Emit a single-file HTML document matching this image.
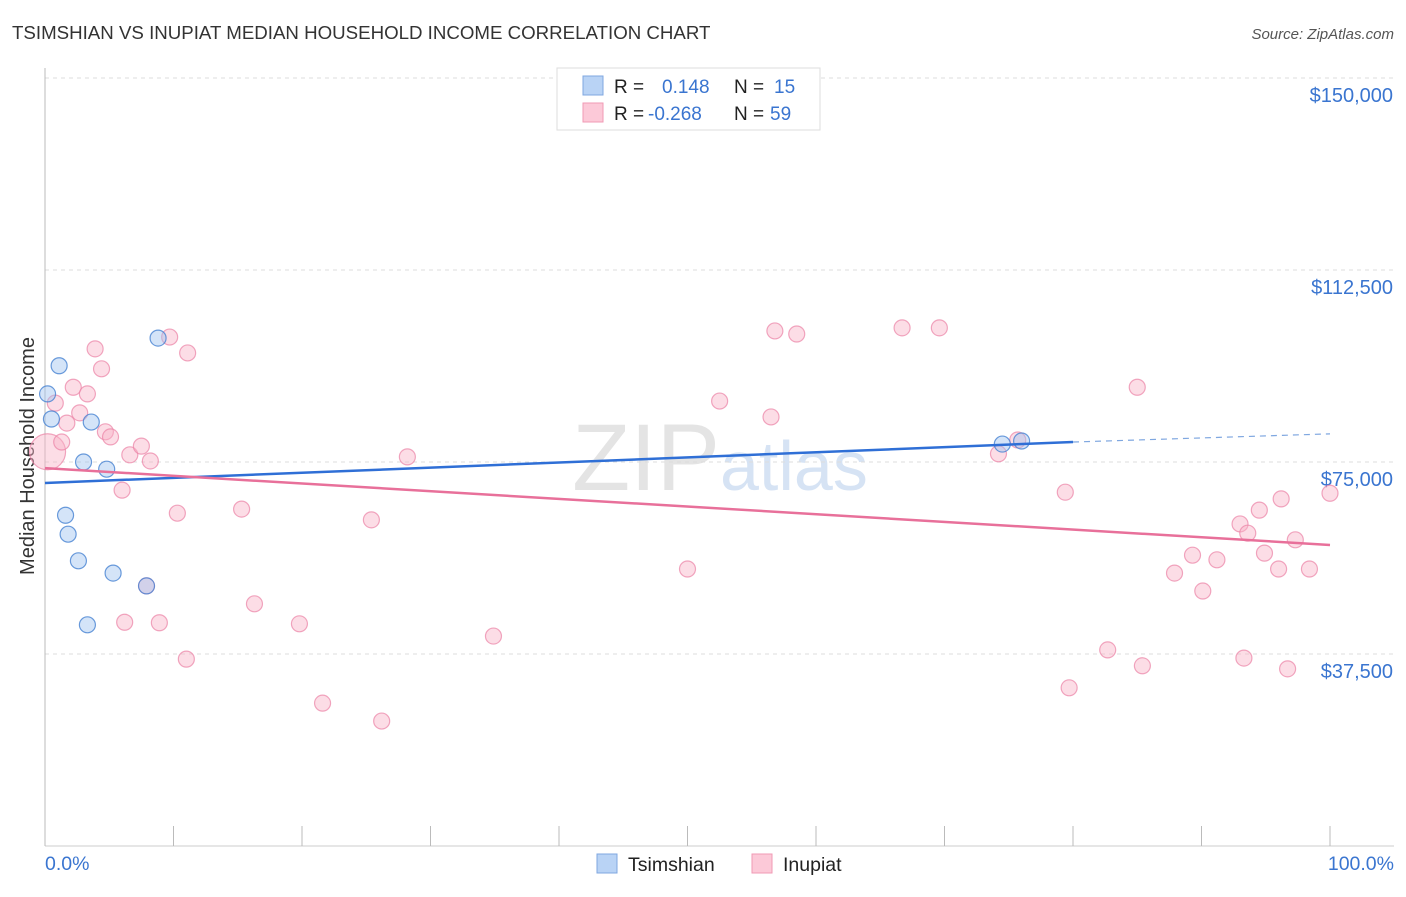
<!DOCTYPE html>
<html><head><meta charset="utf-8"><style>
body{margin:0;background:#fff;font-family:"Liberation Sans",sans-serif}
svg text{font-family:"Liberation Sans",sans-serif}
</style></head><body>
<svg id="c" width="1406" height="892">
<text x="12" y="39" font-size="18.7" fill="#333">TSIMSHIAN VS INUPIAT MEDIAN HOUSEHOLD INCOME CORRELATION CHART</text>
<text x="1394" y="39" font-size="15" fill="#555" text-anchor="end" font-style="italic">Source: ZipAtlas.com</text>
<text x="0" y="0" transform="translate(34,456) rotate(-90)" font-size="20" fill="#333" text-anchor="middle">Median Household Income</text>
<text x="720" y="490" font-size="95" fill="#e4e4e4" text-anchor="middle" font-family="Liberation Serif">ZIP<tspan fill="#d6e3f4" font-family="Liberation Sans" font-size="70">atlas</tspan></text>
<g id="grid"></g><g id="pts"></g><g id="lines"></g>
<g>
<rect x="557" y="68" width="263" height="62" fill="#fff" stroke="#ddd"/>
<rect x="583" y="76" width="20" height="19" fill="#b9d3f5" stroke="#7fa7e0"/>
<rect x="583" y="103" width="20" height="19" fill="#fcc9d8" stroke="#f09ab4"/>
<text x="614" y="93" font-size="19" fill="#222">R = <tspan x="662" fill="#3a75d0">0.148</tspan><tspan x="734" fill="#222">N = </tspan><tspan x="774" fill="#3a75d0">15</tspan></text>
<text x="614" y="120" font-size="19" fill="#222">R = <tspan x="648" fill="#3a75d0">-0.268</tspan><tspan x="734" fill="#222">N = </tspan><tspan x="770" fill="#3a75d0">59</tspan></text>
</g>
<g>
<rect x="597" y="854" width="20" height="19" fill="#b9d3f5" stroke="#7fa7e0"/>
<text x="628" y="871" font-size="19.5" fill="#222">Tsimshian</text>
<rect x="752" y="854" width="20" height="19" fill="#fcc9d8" stroke="#f09ab4"/>
<text x="783" y="871" font-size="19.5" fill="#222">Inupiat</text>
</g>
<text x="45" y="870" font-size="19.5" fill="#3a75d0">0.0%</text>
<text x="1394" y="870" font-size="19.5" fill="#3a75d0" text-anchor="end">100.0%</text>
</svg>
<script>
const yTicks=[150000,112500,75000,37500];
const yTickLabels=["$150,000","$112,500","$75,000","$37,500"];
const blueX=[0.2,1.1,0.5,3.6,3.0,4.8,1.6,1.8,2.6,5.3,7.9,3.3,8.8,74.5,76.0];
const blueY=[88.3,93.8,83.4,82.8,75.0,73.6,64.6,60.9,55.7,53.3,50.8,43.2,99.2,78.5,79.1];
const pinkX=[0.2,0.8,1.3,1.7,2.2,2.7,3.3,3.9,4.4,4.7,5.1,6.0,6.6,7.5,8.2,9.7,11.1,10.3,6.2,8.9,11.0,15.3,16.3,19.8,21.6,25.4,26.2,28.2,34.9,50.0,52.5,56.5,56.8,58.5,66.7,69.6,74.2,75.7,79.4,79.7,82.7,85.0,85.4,87.9,89.3,90.1,91.2,93.0,93.3,93.6,94.5,94.9,96.2,96.0,96.7,97.3,98.4,100,7.9];
const pinkY=[77.0,86.5,78.9,82.6,89.6,84.6,88.3,97.1,93.2,80.9,79.9,69.5,76.4,78.1,75.2,99.4,96.3,65.0,43.7,43.6,36.5,65.8,47.3,43.4,27.9,63.7,24.4,76.0,41.0,54.1,86.9,83.8,100.6,100.0,101.2,101.2,76.6,79.3,69.1,30.9,38.3,89.6,35.2,53.3,56.8,49.8,55.9,62.9,36.7,61.1,65.6,57.2,67.8,54.1,34.6,59.8,54.1,68.9,50.8];
const blueTrend=[70.9,78.9,80.5];
const pinkTrend=[73.8,58.8];
const NS="http://www.w3.org/2000/svg";
const X=v=>45+v*12.85, Y=k=>846-k*1000*192/37500;
function mk(t,a,p){const e=document.createElementNS(NS,t);for(const k in a)e.setAttribute(k,a[k]);p.appendChild(e);return e;}
const grid=document.getElementById('grid');
yTicks.forEach((v,i)=>{
 const l=mk('line',{x1:45,x2:1394,y1:Y(v/1000),y2:Y(v/1000),stroke:'#ddd','stroke-dasharray':'4,4'},grid);
 
 
 const t=mk('text',{x:1393,y:Y(v/1000)+24,'font-size':20,fill:'#3a75d0','text-anchor':'end'},grid);
 t.textContent=yTickLabels[i];
 
 
});
const ax=mk('line',{x1:45,x2:45,y1:68,y2:846,stroke:'#bbb'},grid);


const bx=mk('line',{x1:45,x2:1394,y1:846,y2:846,stroke:'#ccc'},grid);


for(let i=0;i<=10;i++){
 const t=mk('line',{x1:X(i*10),x2:X(i*10),y1:826,y2:846,stroke:'#bbb'},grid);
 
 
}
const pts=document.getElementById('pts');
pinkX.forEach((x,i)=>{
 const c=mk('circle',{cx:X(x),cy:Y(pinkY[i]),r:i==0?18:8,fill:'rgba(248,180,200,0.45)',stroke:'rgba(235,130,165,0.7)','stroke-width':1.2},pts);
 
 
});
blueX.forEach((x,i)=>{
 const c=mk('circle',{cx:X(x),cy:Y(blueY[i]),r:8,fill:'rgba(160,195,240,0.45)',stroke:'rgba(70,130,210,0.8)','stroke-width':1.2},pts);
 
 
});
const lines=document.getElementById('lines');
let l=mk('line',{x1:X(0),y1:Y(blueTrend[0]),x2:X(80),y2:Y(blueTrend[1]),stroke:'#2f6fd6','stroke-width':2.5},lines);


l=mk('line',{x1:X(80),y1:Y(blueTrend[1]),x2:X(100),y2:Y(blueTrend[2]),stroke:'#7fa7e0','stroke-width':1.2,'stroke-dasharray':'6,5'},lines);


l=mk('line',{x1:X(0),y1:Y(pinkTrend[0]),x2:X(100),y2:Y(pinkTrend[1]),stroke:'#e8709a','stroke-width':2.5},lines);


</script>
</body></html>
